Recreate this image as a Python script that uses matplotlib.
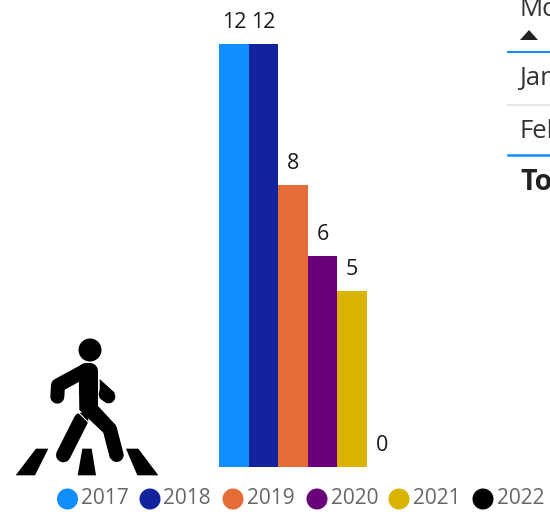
import matplotlib
matplotlib.use('Agg')
import matplotlib.pyplot as plt
from matplotlib.patches import Polygon

plt.rcParams['font.family'] = ['Open Sans', 'DejaVu Sans']

years = ['2017', '2018', '2019', '2020', '2021', '2022']
counts = [12, 12, 8, 6, 5, 0]
colors = ['#118DFF', '#12239E', '#E66C37', '#6B007B', '#D9B300', '#000000']
legend_circle_x = [67.5, 150, 233, 317, 399, 483]
table_rows = ['Jan', 'Feb']

W, H = 550, 514
fig = plt.figure(figsize=(W / 100, H / 100), dpi=100)

# overlay in pixel coordinates for the icon, legend and table
page = fig.add_axes([0, 0, 1, 1])
page.set_xlim(0, W)
page.set_ylim(H, 0)
page.axis('off')

# bars
ax = fig.add_axes([219 / W, 1 - 467 / H, 177.6 / W, 423 / H])
ax.bar(range(len(counts)), counts, width=1.0, color=colors, align='edge')
ax.set_xlim(0, len(counts))
ax.set_ylim(0, 12)
ax.axis('off')
for i, c in enumerate(counts):
    ax.annotate(str(c), (i + 0.5, c), xytext=(0, 11), textcoords='offset pixels',
                ha='center', va='bottom', fontsize=15.5, color='#1a1a1a',
                annotation_clip=False)


# the walking figure is sketched on a 3x grid, offset 330px from the top
def icon_xy(pts):
    return [(x / 3, 330 + y / 3) for x, y in pts]


def stroke(pts, width):
    xy = icon_xy(pts)
    page.plot([p[0] for p in xy], [p[1] for p in xy], color='black',
              lw=width / 3 * 0.72, solid_capstyle='round', solid_joinstyle='round')


def fill(pts):
    page.add_patch(Polygon(icon_xy(pts), closed=True, color='black', lw=0))


fill([(108, 356), (145, 356), (105, 436), (47, 436)])
fill([(247, 356), (275, 356), (288, 436), (233, 436)])
fill([(378, 356), (415, 356), (475, 436), (412, 436)])

page.add_patch(plt.Circle((90, 350), 11.5, color='black', lw=0))

# rear arm
stroke([(172, 200), (174, 166), (255, 122)], 42)
# torso and leading leg
stroke([(258, 124), (270, 124)], 48)
fill([(236, 120), (294, 125), (294, 228), (347, 285), (370, 378), (330, 385),
      (310, 308), (238, 240)])
stroke([(330, 298), (350, 375)], 42)
# trailing leg, separated from the hip by a white seam
stroke([(243, 270), (190, 375)], 44)
page.plot(*zip(*icon_xy([(236, 248), (266, 278)])), color='white', lw=0.8)
# leading arm
fill([(299, 147), (344, 188), (322, 220), (299, 205)])
stroke([(326, 200), (316, 192)], 40)

# legend
for year, color, cx in zip(years, colors, legend_circle_x):
    page.add_patch(plt.Circle((cx, 499), 10.5, color=color, lw=0))
    page.text(cx + 13.5, 499, year, fontsize=15, color='#666666', va='center', ha='left')

# table fragment running off the right edge
page.text(520, 10, 'Month', fontsize=18.5, color='#333333', va='center', ha='left')
page.add_patch(Polygon([(520, 40), (538, 40), (529, 30)], closed=True, color='#222222', lw=0))
page.plot([508, W], [52, 52], color='#118DFF', lw=1.5)
page.text(519, 79, table_rows[0], fontsize=18.5, color='#333333', va='center', ha='left')
page.plot([508, W], [105, 105], color='#E6E6E6', lw=1.5)
page.text(519, 132, table_rows[1], fontsize=18.5, color='#333333', va='center', ha='left')
page.plot([508, W], [155, 155], color='#118DFF', lw=1.8)
page.text(520, 183, 'Total', fontsize=20.5, color='#222222', va='center', ha='left', fontweight='bold')

fig.savefig('out.png', dpi=100)
